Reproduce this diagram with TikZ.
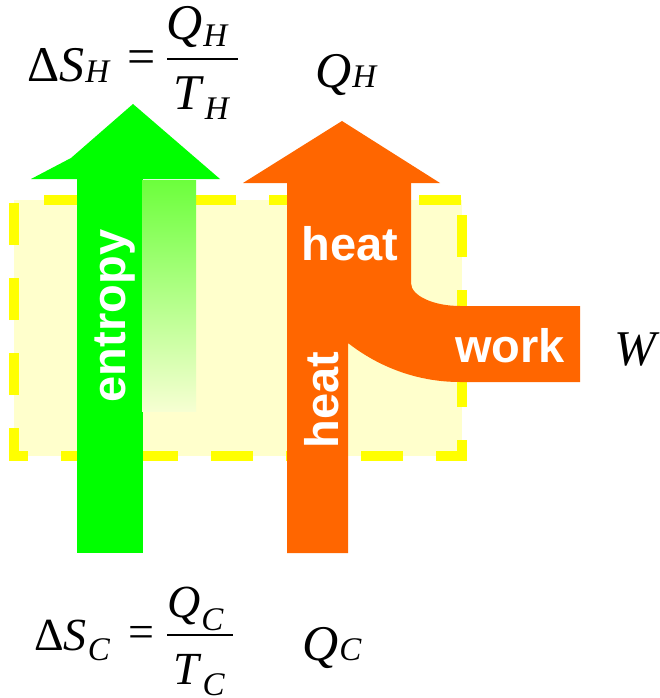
\documentclass[tikz,border=0pt]{standalone}
\usepackage{fontspec}
\setmainfont{Liberation Serif}
\setsansfont{Liberation Sans}
\usepackage{tikz}
\definecolor{entgreen}{HTML}{00FF00}
\definecolor{fadegreen}{HTML}{6CFF3C}
\definecolor{fadeend}{HTML}{F6FFD2}
\definecolor{heatorange}{HTML}{FF6600}
\definecolor{sysyellow}{HTML}{FFFF00}
\definecolor{sysfill}{HTML}{FFFFCC}
\newcommand{\subsz}{\fontsize{33}{33}\selectfont}
\newcommand{\isub}[3][0pt]{\textit{#2}\kern1pt\raisebox{-#1}{\subsz\textit{#3}}}

\begin{document}
\begin{tikzpicture}[x=1pt, y=-1pt,
  sysbox/.style={draw=sysyellow, fill=sysfill, line width=10pt,
    dash pattern=on 42pt off 33pt, dash phase=60pt},
  flow/.style={fill=#1, draw=none},
  bigword/.style={text=white, inner sep=0pt,
    font=\sffamily\bfseries\fontsize{47}{50}\selectfont},
  hotmath/.style={inner sep=0pt, font=\fontsize{50}{52}\selectfont},
  coldmath/.style={inner sep=0pt, font=\fontsize{46}{48}\selectfont},
  fracbar/.style={fill=black, inner sep=0pt, minimum height=2.4pt}
]
\useasboundingbox (0,0) rectangle (660,698);

% engine boundary
\path[sysbox] (462,200) -- (462,456) -- (14,456) -- (14,200) -- cycle;

% entropy arrow
\fill[flow=entgreen] (77,553) -- (77,179) -- (143,179) -- (143,553) -- cycle;
\shade[top color=fadegreen, bottom color=fadeend] (142,180) rectangle (196,411);
\fill[flow=entgreen] (31,179) -- (71,158) -- (133,104) -- (220,179) -- cycle;

% heat arrow, work branch
\fill[flow=heatorange] (287,553) -- (287,183) -- (411,183) -- (411,283)
  .. controls (411,296) and (434,306) .. (460,306) -- (580,306)
  -- (580,382) -- (460,382) .. controls (419,382) and (380,368) .. (348,343)
  -- (348,553) -- cycle;
\fill[flow=heatorange] (243,183) -- (342,121) -- (440,183) -- cycle;

\node[bigword, rotate=90, anchor=base] (entropy) at (125,316) {entropy};
\node[bigword, anchor=base] (heatout) at (350,260) {heat};
\node[bigword, rotate=90, anchor=base] (heatin) at (338,400) {heat};
\node[bigword, anchor=base] (work) at (510,362) {work};

% hot side
\node[hotmath, anchor=base west] (dSH) at (27,82) {Δ\isub[1pt]{S}{H}};
\node[hotmath, anchor=base] (eqH) at (141.5,74) {=};
\node[hotmath, anchor=base west] (numH) at (166,40) {\isub[7pt]{Q}{H}};
\node[fracbar, minimum width=71pt] (barH) at (202.5,59.3) {};
\node[hotmath, anchor=base west] (denH) at (173,110) {\isub[10pt]{T}{H}};
\node[hotmath, anchor=base west] (QH) at (315,88) {\isub{Q}{H}};

\node[hotmath, anchor=base west] (W) at (614,365) {\textit{W}};

% cold side
\node[coldmath, anchor=base west] (dSC) at (34,650) {Δ\isub[10pt]{S}{C}};
\node[coldmath, anchor=base] (eqC) at (141.5,647) {=};
\node[coldmath, anchor=base west] (numC) at (167,617) {\isub[13pt]{Q}{C}};
\node[fracbar, minimum width=66pt] (barC) at (200,635) {};
\node[coldmath, anchor=base west] (denC) at (173,684) {\isub[11pt]{T}{C}};
\node[hotmath, anchor=base west] (QC) at (302,660) {\isub{Q}{C}};
\end{tikzpicture}
\end{document}
